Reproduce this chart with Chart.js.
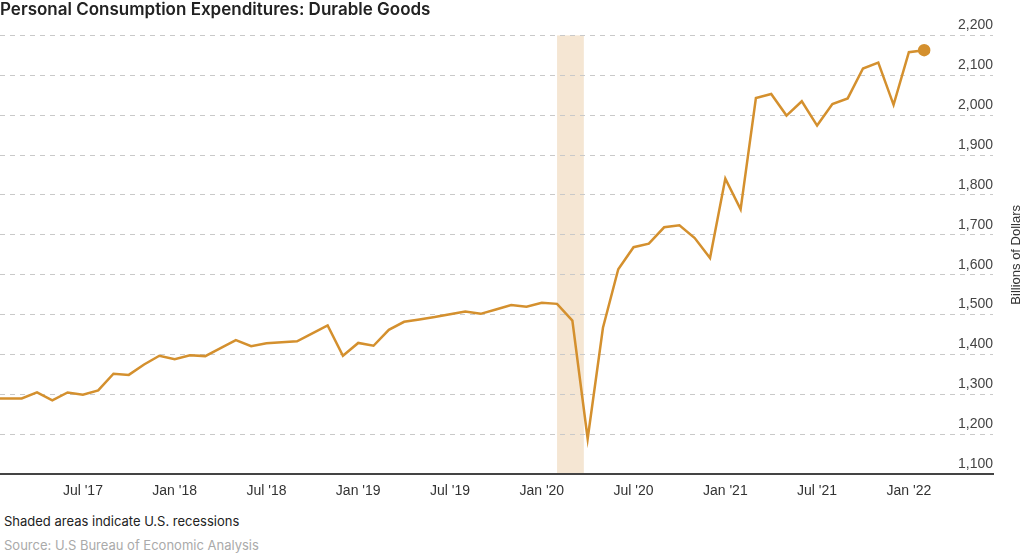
<!DOCTYPE html>
<html>
<head>
<meta charset="utf-8">
<script src="https://cdn.jsdelivr.net/npm/chart.js@4.4.1/dist/chart.umd.min.js"></script>
<style>
  html, body { margin: 0; padding: 0; background: #fff; }
  #wrap { position: relative; width: 1024px; height: 510px; }
  .note { font-family: Inter, "Noto Sans", sans-serif; font-size: 13px; margin-left: 4px; }
  #shaded { color: #222; margin-top: 3px; }
  #source { color: #aaa; margin-top: 8px; }
</style>
</head>
<body>
<div id="wrap"><canvas id="myChart"></canvas></div>
<div class="note" id="shaded">Shaded areas indicate U.S. recessions</div>
<div class="note" id="source">Source: U.S Bureau of Economic Analysis</div>
<script>
// monthly values, Jan 2017 .. Feb 2022 (billions of dollars)
const months = [
  "Jan 2017", "Feb 2017", "Mar 2017", "Apr 2017", "May 2017", "Jun 2017",
  "Jul 2017", "Aug 2017", "Sep 2017", "Oct 2017", "Nov 2017", "Dec 2017",
  "Jan 2018", "Feb 2018", "Mar 2018", "Apr 2018", "May 2018", "Jun 2018",
  "Jul 2018", "Aug 2018", "Sep 2018", "Oct 2018", "Nov 2018", "Dec 2018",
  "Jan 2019", "Feb 2019", "Mar 2019", "Apr 2019", "May 2019", "Jun 2019",
  "Jul 2019", "Aug 2019", "Sep 2019", "Oct 2019", "Nov 2019", "Dec 2019",
  "Jan 2020", "Feb 2020", "Mar 2020", "Apr 2020", "May 2020", "Jun 2020",
  "Jul 2020", "Aug 2020", "Sep 2020", "Oct 2020", "Nov 2020", "Dec 2020",
  "Jan 2021", "Feb 2021", "Mar 2021", "Apr 2021", "May 2021", "Jun 2021",
  "Jul 2021", "Aug 2021", "Sep 2021", "Oct 2021", "Nov 2021", "Dec 2021",
  "Jan 2022", "Feb 2022"
];
const values = [
  1289, 1290, 1290, 1305, 1285, 1305, 1299, 1310, 1352, 1349, 1375, 1397,
  1388, 1398, 1396, 1416, 1436, 1421, 1428, 1431, 1433, 1453, 1473, 1397,
  1429, 1422, 1462, 1482, 1488, 1494, 1501, 1508, 1502, 1513, 1524, 1520,
  1530, 1527, 1485, 1189, 1467, 1614, 1669, 1678, 1719, 1724, 1692, 1642,
  1841, 1764, 2043, 2053, 1999, 2035, 1974, 2028, 2042, 2117, 2132, 2026,
  2158, 2163
];
const tickMonths = ["Jul 2017", "Jan 2018", "Jul 2018", "Jan 2019", "Jul 2019",
  "Jan 2020", "Jul 2020", "Jan 2021", "Jul 2021", "Jan 2022"];
const tickLabels = ["Jul '17", "Jan '18", "Jul '18", "Jan '19", "Jul '19",
  "Jan '20", "Jul '20", "Jan '21", "Jul '21", "Jan '22"];
const recession = ["Feb 2020", "Apr 2020"];

const lineColor = "#d4902e";

const points = values.map((v, i) => ({ x: i, y: v }));
const tickIdx = tickMonths.map(m => months.indexOf(m));

const recessionPlugin = {
  id: "recession",
  beforeDraw(chart) {
    const { ctx, chartArea } = chart;
    const x = chart.scales.x;
    const x0 = x.getPixelForValue(months.indexOf(recession[0]));
    const x1 = x.getPixelForValue(months.indexOf(recession[1]) - 0.25);
    ctx.save();
    ctx.fillStyle = "#f5e6d3";
    ctx.fillRect(x0, chartArea.top, x1 - x0, chartArea.bottom - chartArea.top);
    ctx.restore();
  }
};

const yTitlePlugin = {
  id: "yTitle",
  afterDraw(chart) {
    const { ctx, chartArea } = chart;
    ctx.save();
    ctx.translate(1016, (chartArea.top + chartArea.bottom) / 2);
    ctx.rotate(-Math.PI / 2);
    ctx.font = "13px 'Liberation Sans', Arial, sans-serif";
    ctx.fillStyle = "#333";
    ctx.textAlign = "center";
    ctx.textBaseline = "middle";
    ctx.fillText("Billions of Dollars", 0, 0);
    ctx.restore();
  }
};

// drop the label half-width padding chart.js reserves round the plot
const noPad = s => { s.paddingLeft = 0; s.paddingRight = 0; s.paddingTop = 0; s.paddingBottom = 0; };

const ctx = document.getElementById("myChart").getContext("2d");
new Chart(ctx, {
  type: "line",
  data: {
    datasets: [{
      data: points,
      borderColor: lineColor,
      backgroundColor: lineColor,
      borderWidth: 2.5,
      tension: 0,
      pointRadius: c => (c.dataIndex === values.length - 1 ? 5 : 0),
      pointHoverRadius: 0,
      borderJoinStyle: "miter"
    }]
  },
  options: {
    responsive: true,
    maintainAspectRatio: false,
    animation: false,
    layout: { autoPadding: false, padding: { left: 0, right: 31, top: 0, bottom: 1 } },
    plugins: {
      legend: { display: false },
      tooltip: { enabled: false },
      title: {
        display: true,
        text: "Personal Consumption Expenditures: Durable Goods",
        align: "start",
        color: "#222",
        font: { family: "Inter", size: 17, weight: "600" },
        padding: { top: 0, bottom: 15 }
      }
    },
    scales: {
      x: {
        type: "linear",
        min: 0.58,
        max: 65.5,
        afterBuildTicks: axis => {
          axis.ticks = tickIdx.map(v => ({ value: v }));
        },
        afterFit: noPad,
        grid: { display: false, drawTicks: false },
        border: { display: true, color: "#444", width: 2 },
        ticks: {
          autoSkip: false,
          maxRotation: 0,
          padding: 9,
          color: "#333",
          font: { family: "'Liberation Sans', Arial, sans-serif", size: 14 },
          callback: (v) => tickLabels[tickIdx.indexOf(v)]
        }
      },
      y: {
        position: "right",
        min: 1100,
        max: 2200,
        afterFit: noPad,
        grid: { color: "#c9c9c9", lineWidth: 1, drawTicks: false },
        border: { display: false, dash: [5, 5] },
        ticks: {
          stepSize: 100,
          mirror: true,
          padding: 0,
          labelOffset: -10,
          color: "#444",
          font: { family: "'Liberation Sans', Arial, sans-serif", size: 14 }
        }
      }
    }
  },
  plugins: [recessionPlugin, yTitlePlugin]
});
</script>
</body>
</html>
